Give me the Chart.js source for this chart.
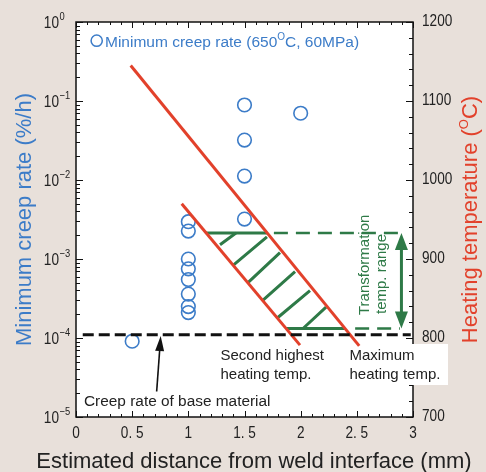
<!DOCTYPE html>
<html>
<head>
<meta charset="utf-8">
<script src="https://cdn.jsdelivr.net/npm/chart.js@4.4.1/dist/chart.umd.min.js"></script>
<style>
  html, body { margin: 0; padding: 0; background: #e8e0da; }
  canvas { display: block; }
</style>
</head>
<body>
<canvas id="chart1" width="486" height="472"></canvas>
<script>
// creep test results (distance from weld interface in mm, min creep rate in %/h)
const creepDistance = [0.5, 1, 1, 1, 1, 1, 1, 1, 1, 1.5, 1.5, 1.5, 1.5, 2];
const creepRate = [9.1e-5, 2.97e-3, 2.26e-3, 1.0e-3, 7.5e-4, 5.5e-4, 3.6e-4, 2.5e-4, 2.1e-4,
                   8.9e-2, 3.2e-2, 1.12e-2, 3.2e-3, 7.0e-2];

// base material creep rate
const baseRate = 1.1e-4;
const baseSpan = [0.06, 2.98];

// heating temperature lines (mm, deg C)
const maxHeatDistance = [0.487, 2.521];
const maxHeatTemp = [1145, 790];
const secondHeatDistance = [0.941, 1.994];
const secondHeatTemp = [970, 791];

// transformation temperature range (lower, upper)
const transformTemp = [812, 933];
const transformRight = 2.884;
const transformArrowX = 2.897;

// hatch strokes inside the transformation band
const hatchStartX = [1.282, 1.398, 1.531, 1.665, 1.789, 2.021];
const hatchStartT = [918, 892, 870, 848, 825, 812];
const hatchEndX = [1.424, 1.700, 1.816, 1.950, 2.083, 2.226];
const hatchEndT = [933, 928, 908, 884, 860, 839];

// arrow pointing at base material rate
const baseArrowX = [0.718, 0.754];
const baseArrowRate = [2.1e-5, 1.06e-4];

// axes
const xTickValues = [0, 0.5, 1, 1.5, 2, 2.5, 3];
const xTickLabels = ['0', '0. 5', '1', '1. 5', '2', '2. 5', '3'];
const rateTickExp = [0, -1, -2, -3, -4, -5];
const tempTicks = [700, 800, 900, 1000, 1100, 1200];

const BLUE = '#3c7cc8';
const RED = '#e2412b';
const GREEN = '#2e7a47';
const BG = '#e8e0da';
const FONT = '"Liberation Sans", Arial, sans-serif';

function xOnLine(xs, ts, t) {
  return xs[0] + (t - ts[0]) * (xs[1] - xs[0]) / (ts[1] - ts[0]);
}

function pts(xs, ys) {
  return xs.map((x, i) => ({ x: x, y: ys[i] }));
}

// hatch strokes as one broken line
const hatchData = [];
hatchStartX.forEach((x, i) => {
  hatchData.push({ x: x, y: hatchStartT[i] });
  hatchData.push({ x: hatchEndX[i], y: hatchEndT[i] });
  hatchData.push({ x: hatchEndX[i], y: null });
});

const lowSolid = [xOnLine(secondHeatDistance, secondHeatTemp, transformTemp[0]),
                  xOnLine(maxHeatDistance, maxHeatTemp, transformTemp[0])];
const topSolid = [xOnLine(secondHeatDistance, secondHeatTemp, transformTemp[1]),
                  xOnLine(maxHeatDistance, maxHeatTemp, transformTemp[1])];

function txt(ctx, s, x, y, size, color, align, base, sx) {
  ctx.save();
  ctx.font = size + 'px ' + FONT;
  ctx.fillStyle = color;
  ctx.textAlign = align || 'left';
  ctx.textBaseline = base || 'alphabetic';
  ctx.translate(x, y);
  ctx.scale(sx || 1, 1);
  ctx.fillText(s, 0, 0);
  ctx.restore();
}

// text made of parts, some raised (superscripts)
function rich(ctx, parts, x, y, color, rot, center) {
  ctx.save();
  ctx.translate(x, y);
  if (rot) ctx.rotate(rot);
  ctx.fillStyle = color;
  ctx.textBaseline = 'alphabetic';
  ctx.textAlign = 'left';
  let w = 0;
  parts.forEach(p => { ctx.font = p.size + 'px ' + FONT; w += ctx.measureText(p.t).width; });
  let cx = center ? -w / 2 : 0;
  parts.forEach(p => {
    ctx.font = p.size + 'px ' + FONT;
    ctx.fillText(p.t, cx, p.dy || 0);
    cx += ctx.measureText(p.t).width;
  });
  ctx.restore();
}

function arrowHead(ctx, tx, ty, bx, by, half, color) {
  const ang = Math.atan2(ty - by, tx - bx);
  const nx = -Math.sin(ang), ny = Math.cos(ang);
  ctx.beginPath();
  ctx.moveTo(tx, ty);
  ctx.lineTo(bx + nx * half, by + ny * half);
  ctx.lineTo(bx - nx * half, by - ny * half);
  ctx.closePath();
  ctx.fillStyle = color;
  ctx.fill();
}

const decor = {
  id: 'decor',
  beforeDraw(chart) {
    const { ctx, chartArea: a } = chart;
    ctx.save();
    ctx.fillStyle = BG;
    ctx.fillRect(0, 0, chart.width, chart.height);
    ctx.fillStyle = '#fff';
    ctx.fillRect(a.left, a.top, a.right - a.left, a.bottom - a.top);
    ctx.restore();
  },
  afterDatasetsDraw(chart) {
    const { ctx, chartArea: a } = chart;
    const sx = chart.scales.x, sy = chart.scales.y, st = chart.scales.y2;
    ctx.save();

    // frame
    ctx.strokeStyle = '#111';
    ctx.lineWidth = 1.5;
    ctx.strokeRect(a.left, a.top, a.right - a.left, a.bottom - a.top);

    // ticks
    ctx.lineWidth = 1;
    ctx.beginPath();
    for (let i = 0; i <= 30; i++) {
      const px = Math.round(sx.getPixelForValue(i / 10)) + 0.5;
      const len = i % 5 === 0 ? 6 : 3;
      ctx.moveTo(px, a.bottom); ctx.lineTo(px, a.bottom - len);
      ctx.moveTo(px, a.top); ctx.lineTo(px, a.top + len);
    }
    for (let e = -5; e <= 0; e++) {
      for (let m = 1; m <= 9; m++) {
        if (e === 0 && m > 1) break;
        const py = Math.round(sy.getPixelForValue(m * Math.pow(10, e))) + 0.5;
        const len = m === 1 ? 7 : 4;
        ctx.moveTo(a.left, py); ctx.lineTo(a.left + len, py);
      }
    }
    for (let t = 700; t <= 1200; t += 20) {
      const py = Math.round(st.getPixelForValue(t)) + 0.5;
      const len = t % 100 === 0 ? 7 : 4;
      ctx.moveTo(a.right, py); ctx.lineTo(a.right - len, py);
    }
    ctx.stroke();

    // tick labels
    xTickValues.forEach((v, i) => {
      txt(ctx, xTickLabels[i], sx.getPixelForValue(v), a.bottom + 17, 16, '#222', 'center', 'middle', 0.85);
    });
    rateTickExp.forEach(e => {
      const py = sy.getPixelForValue(Math.pow(10, e));
      txt(ctx, '10', 59, py + 5.5, 16, '#222', 'right', 'alphabetic', 0.85);
      txt(ctx, e === 0 ? '0' : '\u2212' + (-e), 59.5, py - 2, 11, '#222', 'left', 'alphabetic', 0.85);
    });
    tempTicks.forEach(t => {
      txt(ctx, String(t), a.right + 9, st.getPixelForValue(t), 16, '#222', 'left', 'middle', 0.85);
    });

    // axis titles
    txt(ctx, 'Estimated distance from weld interface (mm)', 254, 468, 22, '#222', 'center', 'alphabetic');
    rich(ctx, [{ t: 'Minimum creep rate (%/h)', size: 22 }], 31, (a.top + a.bottom) / 2, BLUE, -Math.PI / 2, true);
    rich(ctx, [{ t: 'Heating temperature (', size: 22 }, { t: 'O', size: 13, dy: -9 }, { t: 'C)', size: 22 }],
         477, (a.top + a.bottom) / 2, RED, -Math.PI / 2, true);

    // legend
    ctx.strokeStyle = BLUE;
    ctx.lineWidth = 1.5;
    ctx.beginPath();
    ctx.arc(96.7, 40.7, 5.6, 0, Math.PI * 2);
    ctx.stroke();
    rich(ctx, [{ t: 'Minimum creep rate (650', size: 15.5 }, { t: 'O', size: 10, dy: -6.5 }, { t: 'C, 60MPa)', size: 15.5 }],
         105, 46.5, BLUE, 0, false);

    // label box for maximum heating temp.
    ctx.fillStyle = '#fff';
    ctx.fillRect(398, 344, 50, 41);

    txt(ctx, 'Second highest', 220.5, 359.5, 15, '#222');
    txt(ctx, 'heating temp.', 220.5, 378.5, 15, '#222');
    txt(ctx, 'Maximum', 349.5, 359.5, 15, '#222');
    txt(ctx, 'heating temp.', 349.5, 378.5, 15, '#222');
    txt(ctx, 'Creep rate of base material', 84, 406, 15.4, '#222');

    // transformation label
    rich(ctx, [{ t: 'Transformation', size: 15 }], 368.5, 315, GREEN, -Math.PI / 2, false);
    rich(ctx, [{ t: 'temp. range', size: 15 }], 386, 314, GREEN, -Math.PI / 2, false);

    // green double arrow heads
    const ax = sx.getPixelForValue(transformArrowX);
    const yTop = st.getPixelForValue(transformTemp[1]);
    const yLow = st.getPixelForValue(transformTemp[0]);
    arrowHead(ctx, ax, yTop, ax, yTop + 17, 6.5, GREEN);
    arrowHead(ctx, ax, yLow, ax, yLow - 17, 6.5, GREEN);

    // black arrow to base rate
    const bx0 = sx.getPixelForValue(baseArrowX[0]), by0 = sy.getPixelForValue(baseArrowRate[0]);
    const bx1 = sx.getPixelForValue(baseArrowX[1]), by1 = sy.getPixelForValue(baseArrowRate[1]);
    const len = Math.hypot(bx1 - bx0, by1 - by0);
    const hx = bx1 - (bx1 - bx0) / len * 15, hy = by1 - (by1 - by0) / len * 15;
    ctx.strokeStyle = '#111';
    ctx.lineWidth = 1.6;
    ctx.beginPath();
    ctx.moveTo(bx0, by0);
    ctx.lineTo(hx, hy);
    ctx.stroke();
    arrowHead(ctx, bx1, by1, hx, hy, 4.5, '#111');

    ctx.restore();
  }
};

const lineSet = (data, color, width, axis, dash) => ({
  data: data,
  yAxisID: axis,
  showLine: true,
  borderColor: color,
  borderWidth: width,
  borderDash: dash || [],
  pointRadius: 0,
  fill: false,
  spanGaps: false
});

new Chart('chart1', {
  type: 'scatter',
  data: {
    datasets: [
      lineSet(pts(baseSpan, [baseRate, baseRate]), '#111', 3, 'y', [11, 5]),
      lineSet(pts(maxHeatDistance, maxHeatTemp), RED, 3, 'y2'),
      lineSet(pts(secondHeatDistance, secondHeatTemp), RED, 3, 'y2'),
      lineSet(hatchData, GREEN, 3, 'y2'),
      lineSet(pts(topSolid, [transformTemp[1], transformTemp[1]]), GREEN, 3, 'y2'),
      lineSet(pts(lowSolid, [transformTemp[0], transformTemp[0]]), GREEN, 3, 'y2'),
      lineSet(pts([topSolid[1] + 0.06, transformRight], [transformTemp[1], transformTemp[1]]), GREEN, 2.5, 'y2', [14, 8]),
      lineSet(pts([lowSolid[1] + 0.09, transformRight], [transformTemp[0], transformTemp[0]]), GREEN, 2.5, 'y2', [14, 8]),
      lineSet(pts([transformArrowX, transformArrowX], [transformTemp[0] + 10, transformTemp[1] - 10]), GREEN, 3, 'y2'),
      {
        data: pts(creepDistance, creepRate),
        yAxisID: 'y',
        showLine: false,
        pointStyle: 'circle',
        pointRadius: 6.8,
        pointBorderWidth: 1.6,
        pointBorderColor: BLUE,
        pointBackgroundColor: 'rgba(0,0,0,0)'
      }
    ]
  },
  options: {
    responsive: false,
    animation: false,
    events: [],
    layout: { padding: { left: 76, top: 22, right: 73, bottom: 55 } },
    plugins: { legend: { display: false }, tooltip: { enabled: false } },
    scales: {
      x: { type: 'linear', min: 0, max: 3, display: false },
      y: { type: 'logarithmic', min: 1e-5, max: 1, display: false },
      y2: { type: 'linear', min: 700, max: 1200, display: false, position: 'right' }
    }
  },
  plugins: [decor]
});
</script>
</body>
</html>
